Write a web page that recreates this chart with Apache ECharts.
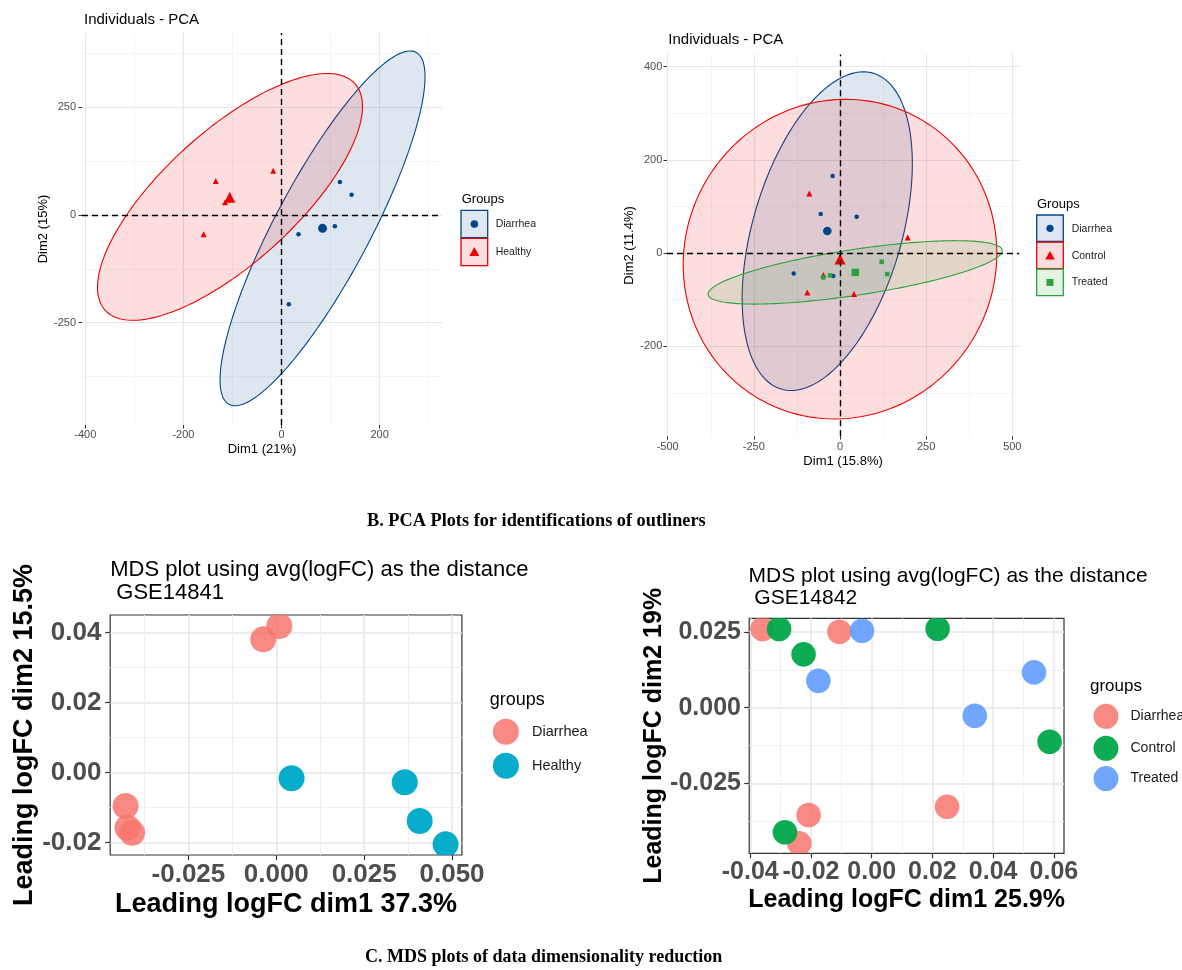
<!DOCTYPE html>
<html>
<head>
<meta charset="utf-8">
<title>PCA and MDS plots</title>
<script src="https://cdn.jsdelivr.net/npm/echarts@6/dist/echarts.min.js"></script>
<style>
  html, body { margin: 0; padding: 0; background: #ffffff; }
  #chart { width: 1182px; height: 970px; }
</style>
</head>
<body>
<div id="chart"></div>
<script>
// ---------- PCA, GSE14841 : Diarrhea vs Healthy ----------
const pca1Diarrhea = [[119, 76.6], [142.9, 47.1], [108.8, -26.2], [34.7, -44.8], [14.9, -207.3]];
const pca1Healthy = [[-134, 79], [-17, 103], [-115, 29.5], [-158.6, -44.8]];
const pca1DiarrheaMean = [83.7, -31];
const pca1HealthyMean = [-105.5, 41];
// concentration ellipses: [centre x, centre y, semi-major, semi-minor, angle in degrees]
const pca1Ellipses = [[83.7, -31, 451, 99.3, 65.3], [-105, 42, 366.6, 143.6, 47.3]];
const pca1XTicks = [-400, -200, 0, 200];
const pca1XMinor = [-300, -100, 100, 300];
const pca1YTicks = [-250, 0, 250];
const pca1YMinor = [-375, -125, 125, 375];

// ---------- PCA, GSE14842 : Diarrhea / Control / Treated ----------
const pca2Diarrhea = [[-21.3, 165.2], [-56, 83.7], [48.4, 78], [-134.4, -43.6], [-19.4, -49.4]];
const pca2Control = [[-89, 128], [196.4, 33.7], [-48.4, -47.2], [-94.9, -84.4], [40.6, -88]];
const pca2Treated = [[121, -18.7], [137.2, -45], [-29, -47.9], [-48.4, -52.3]];
const pca2DiarrheaMean = [-36.8, 47.2];
const pca2ControlMean = [0, -12.9];
const pca2TreatedMean = [44.4, -41.4];
const pca2Ellipses = [[-37, 47, 366.6, 208.5, 64.0], [0, -13, 455.4, 342.5, 3.5], [44, -41.4, 429.3, 49.4, 6.3]];
const pca2XTicks = [-500, -250, 0, 250, 500];
const pca2XMinor = [-375, -125, 125, 375];
const pca2YTicks = [-200, 0, 200, 400];
const pca2YMinor = [-300, -100, 100, 300];

// ---------- MDS, GSE14841 ----------
const mds1Diarrhea = [[0.00085, 0.0419], [-0.00372, 0.0381], [-0.04289, -0.00951], [-0.04233, -0.01571], [-0.04103, -0.01714]];
const mds1Healthy = [[0.00434, -0.0016], [0.03655, -0.00274], [0.0408, -0.0138], [0.04817, -0.02046]];
const mds1XTicks = [-0.025, 0, 0.025, 0.05];
const mds1XMinor = [-0.0375, -0.0125, 0.0125, 0.0375];
const mds1YTicks = [-0.02, 0, 0.02, 0.04];
const mds1YMinor = [-0.01, 0.01, 0.03];

// ---------- MDS, GSE14842 ----------
const mds2Diarrhea = [[-0.03595, 0.02596], [-0.01064, 0.02507], [-0.02078, -0.03539], [-0.02384, -0.04473], [0.02482, -0.03265]];
const mds2Control = [[-0.0305, 0.02596], [-0.02245, 0.0176], [0.02171, 0.02606], [0.05859, -0.01121], [-0.02856, -0.0411]];
const mds2Treated = [[-0.00319, 0.0254], [-0.01758, 0.0089], [0.05346, 0.01167], [0.03394, -0.00264]];
const mds2XTicks = [-0.04, -0.02, 0, 0.02, 0.04, 0.06];
const mds2XMinor = [-0.03, -0.01, 0.01, 0.03, 0.05];
const mds2YTicks = [-0.025, 0, 0.025];
const mds2YMinor = [-0.0375, -0.0125, 0.0125];

// ---------- styling ----------
const SANS = '"Liberation Sans", Arial, Helvetica, sans-serif';
const SERIF = '"Liberation Serif", "Times New Roman", serif';
const BLUE = '#00468B', RED = '#ED0000', GREEN = '#2BA33C';
const PINK = '#F8766D', CYAN = '#00A9C9', MGREEN = '#00A84A', MBLUE = '#619CFF';

function rgba(hex, a) {
  const n = parseInt(hex.slice(1), 16);
  return 'rgba(' + ((n >> 16) & 255) + ',' + ((n >> 8) & 255) + ',' + (n & 255) + ',' + a + ')';
}

function mainAxis(o) {
  return {
    type: 'value', gridIndex: o.grid, min: o.min, max: o.max, position: o.position,
    axisLine: { show: false, onZero: false },
    axisTick: { show: true, customValues: o.ticks, length: o.tickLen, lineStyle: { color: '#333333', width: o.tickWidth || 1 } },
    axisLabel: {
      show: true, customValues: o.ticks, formatter: o.fmt, color: '#4D4D4D',
      fontFamily: SANS, fontSize: o.labelSize, fontWeight: o.labelWeight || 'normal', margin: o.margin
    },
    splitLine: { show: true, lineStyle: { color: o.gridColor, width: o.gridWidth } },
    name: o.name, nameLocation: 'middle', nameGap: o.nameGap,
    nameTextStyle: { color: '#000000', fontFamily: SANS, fontSize: o.nameSize, fontWeight: o.nameWeight || 'normal' },
    silent: true
  };
}

function minorAxis(grid, min, max, vals, color, width, position) {
  return {
    type: 'value', gridIndex: grid, min: min, max: max, position: position,
    axisLine: { show: false, onZero: false },
    axisTick: { show: false, customValues: vals },
    axisLabel: { show: false },
    splitLine: { show: true, lineStyle: { color: color, width: width } },
    silent: true
  };
}

function ellipseSeries(grid, data, colors) {
  return {
    type: 'custom', xAxisIndex: grid, yAxisIndex: grid, data: data, silent: true, clip: true, z: 1,
    encode: { x: 0, y: 1 },
    renderItem: function (params, api) {
      const cx = api.value(0), cy = api.value(1), a = api.value(2), b = api.value(3);
      const th = api.value(4) * Math.PI / 180;
      const pts = [];
      for (let i = 0; i < 200; i++) {
        const t = i / 200 * Math.PI * 2;
        pts.push(api.coord([
          cx + a * Math.cos(th) * Math.cos(t) - b * Math.sin(th) * Math.sin(t),
          cy + a * Math.sin(th) * Math.cos(t) + b * Math.cos(th) * Math.sin(t)
        ]));
      }
      const c = colors[params.dataIndex];
      return { type: 'polygon', shape: { points: pts }, style: { fill: rgba(c, 0.13), stroke: c, lineWidth: 1.1 } };
    }
  };
}

function zeroLines(grid) {
  return {
    type: 'scatter', xAxisIndex: grid, yAxisIndex: grid, data: [], silent: true, z: 2,
    markLine: {
      silent: true, animation: false, symbol: ['none', 'none'], label: { show: false },
      lineStyle: { color: '#000000', type: [6, 4], width: 1.4 },
      data: [{ xAxis: 0 }, { yAxis: 0 }]
    }
  };
}

function points(grid, name, data, symbol, size, color) {
  return {
    type: 'scatter', name: name, xAxisIndex: grid, yAxisIndex: grid, data: data, silent: true, z: 3,
    symbol: symbol, symbolSize: size, itemStyle: { color: color, opacity: 1 }
  };
}

function circles(grid, name, data, color, alpha, r) {
  return {
    type: 'custom', name: name, xAxisIndex: grid, yAxisIndex: grid, data: data, silent: true, clip: true, z: 3,
    encode: { x: 0, y: 1 },
    renderItem: function (params, api) {
      const p = api.coord([api.value(0), api.value(1)]);
      return { type: 'circle', shape: { cx: p[0], cy: p[1], r: r }, style: { fill: rgba(color, alpha) } };
    }
  };
}

// ---------- free text and legend keys ----------
function txt(x, y, s, font, color, align) {
  return {
    type: 'text', x: x, y: y, silent: true,
    style: { text: s, font: font, fill: color || '#000', align: align || 'left', verticalAlign: 'middle',
             textAlign: align || 'left', textVerticalAlign: 'middle' }
  };
}
function keyBox(x, y, w, h, color) {
  return { type: 'rect', silent: true, shape: { x: x, y: y, width: w, height: h },
           style: { fill: rgba(color, 0.13), stroke: color, lineWidth: 1.3 } };
}
function dot(cx, cy, r, fill) {
  return { type: 'circle', silent: true, shape: { cx: cx, cy: cy, r: r }, style: { fill: fill } };
}
function tri(cx, cy, w, h, fill) {
  return { type: 'polygon', silent: true,
           shape: { points: [[cx, cy - h * 0.6], [cx - w / 2, cy + h * 0.4], [cx + w / 2, cy + h * 0.4]] },
           style: { fill: fill } };
}
function sq(cx, cy, s, fill) {
  return { type: 'rect', silent: true, shape: { x: cx - s / 2, y: cy - s / 2, width: s, height: s }, style: { fill: fill } };
}

const graphics = [
  // panel titles
  txt(84, 20, 'Individuals - PCA', '15px ' + SANS, '#000'),
  txt(668.3, 40, 'Individuals - PCA', '15px ' + SANS, '#000'),
  txt(110.2, 570, 'MDS plot using avg(logFC) as the distance', '22px ' + SANS, '#000'),
  txt(110.2, 593.3, ' GSE14841', '22px ' + SANS, '#000'),
  txt(748.5, 576, 'MDS plot using avg(logFC) as the distance', '21px ' + SANS, '#000'),
  txt(748.5, 598.3, ' GSE14842', '21px ' + SANS, '#000'),

  // figure captions
  txt(367, 521, 'B. PCA Plots for identifications of outliners', 'bold 18.3px ' + SERIF, '#000'),
  txt(365, 957, 'C. MDS plots of data dimensionality reduction', 'bold 18px ' + SERIF, '#000'),

  // legend, PCA GSE14841
  txt(461.7, 199, 'Groups', '13px ' + SANS, '#000'),
  keyBox(461, 210.3, 26.7, 27.4, BLUE), dot(474.35, 224, 3.8, BLUE),
  keyBox(461, 238.3, 26.7, 27.4, RED), tri(474.35, 252.5, 10, 9, RED),
  txt(495.7, 224.5, 'Diarrhea', '10.5px ' + SANS, '#1a1a1a'),
  txt(495.7, 252.5, 'Healthy', '10.5px ' + SANS, '#1a1a1a'),

  // legend, PCA GSE14842
  txt(1037, 204, 'Groups', '13px ' + SANS, '#000'),
  keyBox(1036.7, 215, 26.6, 26.5, BLUE), dot(1050, 228.3, 3.6, BLUE),
  keyBox(1036.7, 242.2, 26.6, 26.5, RED), tri(1050, 256, 9.5, 8.5, RED),
  keyBox(1036.7, 269.2, 26.6, 26.5, GREEN), sq(1050, 282.4, 7, GREEN),
  txt(1071.7, 229.3, 'Diarrhea', '10.5px ' + SANS, '#1a1a1a'),
  txt(1071.7, 255.7, 'Control', '10.5px ' + SANS, '#1a1a1a'),
  txt(1071.7, 281.9, 'Treated', '10.5px ' + SANS, '#1a1a1a'),

  // legend, MDS GSE14841
  txt(489.8, 700, 'groups', '18px ' + SANS, '#000'),
  dot(505.9, 731.7, 13, rgba(PINK, 0.85)),
  dot(505.9, 765.7, 13, rgba(CYAN, 0.97)),
  txt(532, 731.7, 'Diarrhea', '14.5px ' + SANS, '#1a1a1a'),
  txt(532, 765.7, 'Healthy', '14.5px ' + SANS, '#1a1a1a'),

  // legend, MDS GSE14842
  txt(1090, 686.5, 'groups', '17px ' + SANS, '#000'),
  dot(1106, 716.3, 12.5, rgba(PINK, 0.85)),
  dot(1106, 748.3, 12.5, rgba(MGREEN, 0.95)),
  dot(1106, 778.6, 12.5, rgba(MBLUE, 0.9)),
  txt(1130.5, 716.3, 'Diarrhea', '14px ' + SANS, '#1a1a1a'),
  txt(1130.5, 748.3, 'Control', '14px ' + SANS, '#1a1a1a'),
  txt(1130.5, 778.6, 'Treated', '14px ' + SANS, '#1a1a1a')
];

const intFmt = function (v) { return String(v); };
const fix2 = function (v) { return v.toFixed(2); };
const fix3 = function (v) { return v.toFixed(3); };

const PCA_MAJOR = '#E6E6E6', PCA_MINOR = '#F2F2F2';
const MDS_MAJOR = '#E6E6E6', MDS_MINOR = '#F0F0F0';

const option = {
  animation: false,
  backgroundColor: '#ffffff',
  grid: [
    { left: 82, top: 33, width: 360, height: 392, outerBoundsMode: 'none' },
    { left: 667, top: 54.6, width: 352.2, height: 381.6, outerBoundsMode: 'none' },
    { left: 110.2, top: 615, width: 351.7, height: 240, outerBoundsMode: 'none',
      show: true, borderColor: '#333333', borderWidth: 1.2, backgroundColor: 'rgba(0,0,0,0)' },
    { left: 749.2, top: 618.3, width: 314.8, height: 235, outerBoundsMode: 'none',
      show: true, borderColor: '#333333', borderWidth: 1.2, backgroundColor: 'rgba(0,0,0,0)' }
  ],
  xAxis: [
    mainAxis({ grid: 0, min: -406.7, max: 327.2, position: 'bottom', ticks: pca1XTicks, fmt: intFmt,
      tickLen: 3.5, labelSize: 11, margin: 4, gridColor: PCA_MAJOR, gridWidth: 1.1,
      name: 'Dim1 (21%)', nameGap: 17.8, nameSize: 13 }),
    mainAxis({ grid: 1, min: -502, max: 520, position: 'bottom', ticks: pca2XTicks, fmt: intFmt,
      tickLen: 3.5, labelSize: 11, margin: 5, gridColor: PCA_MAJOR, gridWidth: 1.1,
      name: 'Dim1 (15.8%)', nameGap: 18.3, nameSize: 13 }),
    mainAxis({ grid: 2, min: -0.04726, max: 0.05281, position: 'bottom', ticks: mds1XTicks, fmt: fix3,
      tickLen: 5, tickWidth: 1.2, labelSize: 26, labelWeight: 'bold', margin: 7, gridColor: MDS_MAJOR, gridWidth: 1.5,
      name: 'Leading logFC dim1 37.3%', nameGap: 36.5, nameSize: 27, nameWeight: 'bold' }),
    mainAxis({ grid: 3, min: -0.04035, max: 0.06334, position: 'bottom', ticks: mds2XTicks, fmt: fix2,
      tickLen: 5, tickWidth: 1.2, labelSize: 25, labelWeight: 'bold', margin: 6, gridColor: MDS_MAJOR, gridWidth: 1.5,
      name: 'Leading logFC dim1 25.9%', nameGap: 34.2, nameSize: 25, nameWeight: 'bold' }),
    minorAxis(0, -406.7, 327.2, pca1XMinor, PCA_MINOR, 0.8, 'top'),
    minorAxis(1, -502, 520, pca2XMinor, PCA_MINOR, 0.8, 'top'),
    minorAxis(2, -0.04726, 0.05281, mds1XMinor, MDS_MINOR, 1, 'top'),
    minorAxis(3, -0.04035, 0.06334, mds2XMinor, MDS_MINOR, 1, 'top')
  ],
  yAxis: [
    mainAxis({ grid: 0, min: -487.5, max: 422.5, position: 'left', ticks: pca1YTicks, fmt: intFmt,
      tickLen: 3.5, labelSize: 11, margin: 6, gridColor: PCA_MAJOR, gridWidth: 1.1,
      name: 'Dim2 (15%)', nameGap: 32.2, nameSize: 13 }),
    mainAxis({ grid: 1, min: -393, max: 426, position: 'left', ticks: pca2YTicks, fmt: intFmt,
      tickLen: 3.5, labelSize: 11, margin: 4.7, gridColor: PCA_MAJOR, gridWidth: 1.1,
      name: 'Dim2 (11.4%)', nameGap: 28.8, nameSize: 13 }),
    mainAxis({ grid: 2, min: -0.02351, max: 0.04506, position: 'left', ticks: mds1YTicks, fmt: fix2,
      tickLen: 5, tickWidth: 1.2, labelSize: 26, labelWeight: 'bold', margin: 8.8, gridColor: MDS_MAJOR, gridWidth: 1.5,
      name: 'Leading logFC dim2 15.5%', nameGap: 71.8, nameSize: 27, nameWeight: 'bold' }),
    mainAxis({ grid: 3, min: -0.04802, max: 0.02949, position: 'left', ticks: mds2YTicks, fmt: fix3,
      tickLen: 5, tickWidth: 1.2, labelSize: 25, labelWeight: 'bold', margin: 8.2, gridColor: MDS_MAJOR, gridWidth: 1.5,
      name: 'Leading logFC dim2 19%', nameGap: 81, nameSize: 25, nameWeight: 'bold' }),
    minorAxis(0, -487.5, 422.5, pca1YMinor, PCA_MINOR, 0.8, 'right'),
    minorAxis(1, -393, 426, pca2YMinor, PCA_MINOR, 0.8, 'right'),
    minorAxis(2, -0.02351, 0.04506, mds1YMinor, MDS_MINOR, 1, 'right'),
    minorAxis(3, -0.04802, 0.02949, mds2YMinor, MDS_MINOR, 1, 'right')
  ],
  series: [
    // PCA GSE14841
    ellipseSeries(0, pca1Ellipses, [BLUE, RED]),
    zeroLines(0),
    points(0, 'Diarrhea', pca1Diarrhea, 'circle', 4.5, BLUE),
    points(0, 'Healthy', pca1Healthy, 'triangle', 6, RED),
    points(0, 'Diarrhea mean', [pca1DiarrheaMean], 'circle', 9, BLUE),
    points(0, 'Healthy mean', [pca1HealthyMean], 'triangle', 11, RED),

    // PCA GSE14842
    ellipseSeries(1, pca2Ellipses, [BLUE, RED, GREEN]),
    zeroLines(1),
    points(1, 'Diarrhea', pca2Diarrhea, 'circle', 4.5, BLUE),
    points(1, 'Control', pca2Control, 'triangle', 6, RED),
    points(1, 'Treated', pca2Treated, 'rect', 4.5, GREEN),
    points(1, 'Diarrhea mean', [pca2DiarrheaMean], 'circle', 8.5, BLUE),
    points(1, 'Control mean', [pca2ControlMean], 'triangle', 11, RED),
    points(1, 'Treated mean', [pca2TreatedMean], 'rect', 7.5, GREEN),

    // MDS GSE14841
    circles(2, 'Diarrhea', mds1Diarrhea, PINK, 0.85, 13),
    circles(2, 'Healthy', mds1Healthy, CYAN, 0.97, 13),

    // MDS GSE14842
    circles(3, 'Diarrhea', mds2Diarrhea, PINK, 0.85, 12.3),
    circles(3, 'Control', mds2Control, MGREEN, 0.95, 12.3),
    circles(3, 'Treated', mds2Treated, MBLUE, 0.9, 12.3)
  ],
  graphic: graphics
};

const chart = echarts.init(document.getElementById('chart'));
chart.setOption(option);
</script>
</body>
</html>
